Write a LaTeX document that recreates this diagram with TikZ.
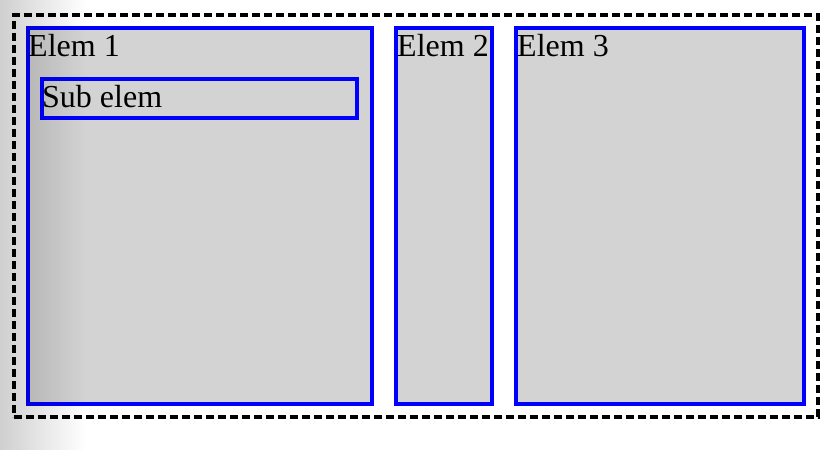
\documentclass[tikz,border=0pt]{standalone}
\usepackage{fontspec}
\setmainfont{Liberation Serif}
\usetikzlibrary{calc,positioning,fadings}
\definecolor{boxgray}{HTML}{D3D3D3}
\tikzfading[name=fade right, left color=transparent!0, right color=transparent!100]
\tikzset{
  elembox/.style={draw=blue, fill=boxgray, line width=4pt, inner sep=0pt, anchor=north west},
  elemlbl/.style={inner sep=0pt, anchor=base west, font=\fontsize{32}{38}\selectfont},
  outerbox/.style={draw=black, line width=3.5pt, dash pattern=on 8pt off 4pt}
}
\begin{document}
\begin{tikzpicture}[x=1pt,y=-1pt]
\useasboundingbox (0,0) rectangle (836,450);
\node[outerbox, inner sep=0pt, anchor=north west, minimum width=804pt, minimum height=402pt] (outer) at (12,13) {};
\node[elembox, minimum width=344pt, minimum height=376pt] (e1) at (26,26) {};
\node[elemlbl] (e1l) at (28,56) {Elem 1};
\node[elembox, minimum width=315pt, minimum height=39pt] (s1) at (40,77) {};
\node[elemlbl] (s1l) at (42,107) {Sub elem};
\node[elembox, minimum width=96pt, minimum height=376pt] (e2) at (394,26) {};
\node[elemlbl] (e2l) at (397,56) {Elem 2};
\node[elembox, minimum width=288pt, minimum height=376pt] (e3) at (514,26) {};
\node[elemlbl] (e3l) at (517,56) {Elem 3};
\begin{scope}
\clip (0,0) rectangle (836,450);
\fill[black, fill opacity=0.22, path fading=fade right] (-15,0) rectangle (85,450);
\end{scope}
\end{tikzpicture}
\end{document}
